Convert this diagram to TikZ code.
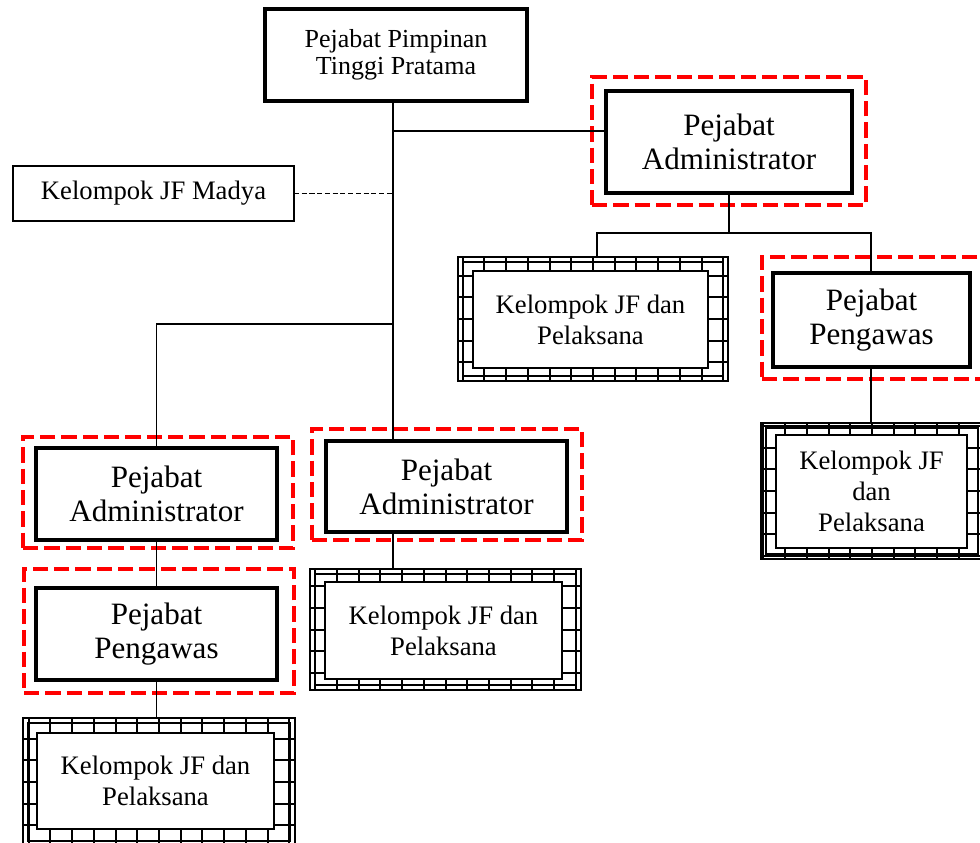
\documentclass[tikz,border=0pt]{standalone}
\usepackage{fontspec}
\setmainfont{Liberation Serif}
\newcommand\txtlarge{\fontsize{23.3}{25.5}\selectfont}
\newcommand\txtsmall{\fontsize{20}{23.25}\selectfont}
\newcommand\txttop{\fontsize{19.5}{20.5}\selectfont}
% box from corner (#2,#3) to corner (#4,#5), in pixel units
\newcommand\orgbox[7]{\node[#6, minimum width={((#4)-(#2))*0.75pt}, minimum height={((#5)-(#3))*0.75pt}] (#1) at ({((#2)+(#4))/2},{((#3)+(#5))/2}) {#7};}
\begin{document}
\begin{tikzpicture}[x=0.75pt,y=-0.75pt,
  solidbox/.style={draw, line width=2.3pt, fill=white, align=center, inner sep=0pt, outer sep=0pt, font=\txtlarge},
  thinbox/.style={draw, line width=1pt, fill=white, align=center, inner sep=0pt, outer sep=0pt, font=\txtsmall},
  redframe/.style={draw=red, line width=3pt, dash pattern=on 11.5pt off 4.5pt, inner sep=0pt, outer sep=0pt},
  gridframe/.style={draw, line width=2.2pt, fill=white, inner sep=0pt, outer sep=0pt,
    path picture={
      \draw[line width=1.5pt] (path picture bounding box.south west) grid[step=16.3pt] (path picture bounding box.north east);
      \draw[line width=1.4pt] ([shift={(3.6pt,-3.6pt)}]path picture bounding box.north west) rectangle ([shift={(-3.6pt,3.6pt)}]path picture bounding box.south east);
    }},
  innerbox/.style={draw, line width=0.8pt, fill=white, align=center, inner sep=0pt, outer sep=0pt, font=\txtsmall},
  link/.style={line width=0.8pt},
  dottedlink/.style={line width=0.8pt, dash pattern=on 3.8pt off 2pt}]

\useasboundingbox (0,0) rectangle (980,842);
\clip (0,0) rectangle (980,842);

% head of the unit
\orgbox{top}{265}{9}{527}{101}{solidbox, font=\txttop}{Pejabat Pimpinan\\Tinggi Pratama}
\orgbox{madya}{13}{166}{294}{221}{thinbox}{Kelompok JF Madya}

% right branch
\orgbox{raR}{592}{77}{866}{205}{redframe}{}
\orgbox{ra}{606}{91}{852}{193}{solidbox}{Pejabat\\Administrator}
\orgbox{g1}{458}{257}{728}{381}{gridframe}{}
\orgbox{k1}{473}{271}{708}{368}{innerbox}{Kelompok JF dan\\Pelaksana}
\orgbox{rpR}{762}{257}{990}{379}{redframe}{}
\orgbox{rp}{773}{273}{970}{367}{solidbox}{Pejabat\\Pengawas}
\orgbox{g4}{761}{423}{983}{559}{gridframe}{}
\orgbox{k4}{776}{435}{967}{548}{innerbox}{Kelompok JF\\dan\\Pelaksana}

% left branch
\orgbox{laR}{23}{437}{293}{548}{redframe}{}
\orgbox{la}{36}{448}{277}{540}{solidbox}{Pejabat\\Administrator}
\orgbox{lpR}{24}{569}{294}{693}{redframe}{}
\orgbox{lp}{36}{588}{277}{680}{solidbox}{Pejabat\\Pengawas}
\orgbox{g3}{23}{718}{295}{846}{gridframe}{}
\orgbox{k3}{37}{733}{274}{829}{innerbox}{Kelompok JF dan\\Pelaksana}

% middle branch
\orgbox{maR}{312}{429}{582}{540}{redframe}{}
\orgbox{ma}{326}{441}{567}{532}{solidbox}{Pejabat\\Administrator}
\orgbox{g2}{310}{569}{581}{690}{gridframe}{}
\orgbox{k2}{325}{582}{562}{679}{innerbox}{Kelompok JF dan\\Pelaksana}

% junction points
\coordinate (trunk) at (393,0);
\coordinate (j1) at (393,131);
\coordinate (j2) at (393,324);
\coordinate (j3) at (728,233);
\coordinate (j4) at (597,233);
\coordinate (j5) at (871,233);

% connectors
\draw[link] (top.south -| trunk) -- (ma.north -| trunk);
\draw[link] (j1) -- (j1 -| ra.west);
\draw[dottedlink] (madya.east) -- (madya.east -| trunk);
\draw[link] (j2) -- (j2 -| la.north) -- (la.north);
\draw[link] (la.south) -- (lp.north);
\draw[link] (lp.south) -- (lp.south |- g3.north);
\draw[link] (ma.south -| trunk) -- (g2.north -| trunk);
\draw[link] (ra.south) -- (ra.south |- j3);
\draw[link] (g1.north -| j4) -- (j4) -- (j5) -- (j5 |- rp.north);
\draw[link] (rp.south -| j5) -- (g4.north -| j5);
\end{tikzpicture}
\end{document}
